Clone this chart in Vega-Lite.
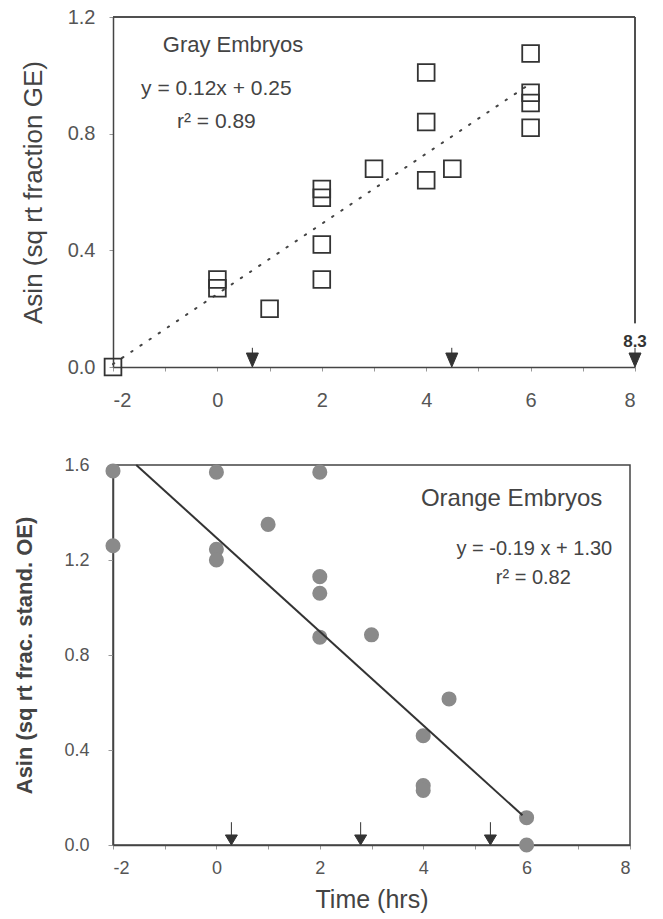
{
  "$schema": "https://vega.github.io/schema/vega-lite/v6.json",
  "background": "white",
  "padding": {"left": 13, "top": 7, "right": 5, "bottom": 5},
  "spacing": 45,
  "config": {
    "font": "Liberation Sans",
    "view": {"stroke": null},
    "axis": {"grid": false, "labelColor": "#555", "titleColor": "#444", "domainColor": "#444", "domainWidth": 1.5, "tickColor": "#999", "labelFont": "Liberation Sans", "titleFont": "Liberation Sans"}
  },
  "datasets": {
    "gray": [
      {"time": -2, "asin": 0.0},
      {"time": 0, "asin": 0.30}, {"time": 0, "asin": 0.27},
      {"time": 1, "asin": 0.20},
      {"time": 2, "asin": 0.61}, {"time": 2, "asin": 0.58}, {"time": 2, "asin": 0.42}, {"time": 2, "asin": 0.30},
      {"time": 3, "asin": 0.68},
      {"time": 4, "asin": 1.01}, {"time": 4, "asin": 0.84}, {"time": 4, "asin": 0.64},
      {"time": 4.5, "asin": 0.68},
      {"time": 6, "asin": 1.075}, {"time": 6, "asin": 0.94}, {"time": 6, "asin": 0.905}, {"time": 6, "asin": 0.82}
    ],
    "orange": [
      {"time": -2, "asin": 1.575}, {"time": -2, "asin": 1.26},
      {"time": 0, "asin": 1.57}, {"time": 0, "asin": 1.245}, {"time": 0, "asin": 1.20},
      {"time": 1, "asin": 1.35},
      {"time": 2, "asin": 1.57}, {"time": 2, "asin": 1.13}, {"time": 2, "asin": 1.06}, {"time": 2, "asin": 0.875},
      {"time": 3, "asin": 0.885},
      {"time": 4, "asin": 0.46}, {"time": 4, "asin": 0.25}, {"time": 4, "asin": 0.23},
      {"time": 4.5, "asin": 0.615},
      {"time": 6, "asin": 0.115}, {"time": 6, "asin": 0.0}
    ],
    "grayFit": [{"time": -2, "asin": 0.01}, {"time": 5.9, "asin": 0.96}],
    "orangeFit": [{"time": -1.55, "asin": 1.6}, {"time": 5.92, "asin": 0.125}],
    "grayArrows": [{"time": 0.67, "asin": 0, "label": ""}, {"time": 4.49, "asin": 0, "label": ""}, {"time": 8, "asin": 0, "label": "8.3"}],
    "orangeArrows": [{"time": 0.29, "asin": 0}, {"time": 2.79, "asin": 0}, {"time": 5.3, "asin": 0}],
    "grayTitle": [{"time": 0.3, "asin": 1.104, "text": "Gray Embryos"}],
    "grayEq": [{"time": -0.02, "asin": 0.952, "text": "y = 0.12x + 0.25"}, {"time": -0.02, "asin": 0.841, "text": "r² = 0.89"}],
    "orangeTitle": [{"time": 5.71, "asin": 1.456, "text": "Orange Embryos"}],
    "orangeEq": [{"time": 6.15, "asin": 1.248, "text": "y = -0.19 x + 1.30"}, {"time": 6.13, "asin": 1.124, "text": "r² = 0.82"}]
  },
  "vconcat": [
    {
      "width": 522,
      "height": 350,
      "encoding": {
        "x": {"field": "time", "type": "quantitative", "scale": {"domain": [-2, 8], "nice": false, "zero": false},
          "axis": {"title": null, "values": [-2, -1, 0, 1, 2, 3, 4, 5, 6, 7, 8], "labelExpr": "datum.value % 2 === 0 ? '' + datum.value : ''", "tickSize": 4, "labelPadding": 19, "labelFontSize": 20}},
        "y": {"field": "asin", "type": "quantitative", "scale": {"domain": [0, 1.2], "nice": false},
          "axis": {"title": "Asin (sq rt fraction GE)", "values": [0, 0.4, 0.8, 1.2], "format": ".1f", "tickSize": 4, "labelPadding": 14, "labelFontSize": 20, "titleFontSize": 26, "titleFontWeight": "normal", "titlePadding": 21}}
      },
      "layer": [
        {"data": {"name": "grayFit"}, "mark": {"type": "line", "color": "#444", "strokeWidth": 2, "strokeDash": [1.5, 9.5], "strokeCap": "round"}},
        {"data": {"name": "grayFit"}, "mark": {"type": "rule", "color": "#444", "strokeWidth": 1.5},
          "encoding": {"x": {"datum": -2}, "x2": {"datum": 8}, "y": {"datum": 1.2}}},
        {"data": {"name": "grayFit"}, "mark": {"type": "rule", "color": "#444", "strokeWidth": 1.5},
          "encoding": {"x": {"datum": 8}, "y": {"datum": 1.2}, "y2": {"datum": 0.15}}},
        {"data": {"name": "gray"}, "mark": {"type": "point", "shape": "square", "filled": false, "size": 280, "stroke": "#333", "strokeWidth": 1.8, "opacity": 1}},
        {"data": {"name": "grayArrows"}, "mark": {"type": "point", "shape": "M-1,-2.33L1,-2.33L0,0ZM0,-2.33L0,-3.2", "size": 144, "filled": true, "fill": "#333", "stroke": "#333", "strokeWidth": 1, "opacity": 1}},
        {"data": {"name": "grayArrows"}, "mark": {"type": "text", "dy": -25, "fontSize": 17, "fontWeight": "bold", "color": "#333", "font": "Liberation Sans"},
          "encoding": {"text": {"field": "label"}}},
        {"data": {"name": "grayTitle"}, "mark": {"type": "text", "fontSize": 22, "color": "#444", "font": "Liberation Sans"}, "encoding": {"text": {"field": "text"}}},
        {"data": {"name": "grayEq"}, "mark": {"type": "text", "fontSize": 21, "color": "#444", "font": "Liberation Sans"}, "encoding": {"text": {"field": "text"}}}
      ]
    },
    {
      "width": 517,
      "height": 380,
      "view": {"stroke": "#444", "strokeWidth": 1.5},
      "encoding": {
        "x": {"field": "time", "type": "quantitative", "scale": {"domain": [-2, 8], "nice": false, "zero": false},
          "axis": {"title": "Time (hrs)", "values": [-2, -1, 0, 1, 2, 3, 4, 5, 6, 7, 8], "labelExpr": "datum.value % 2 === 0 ? '' + datum.value : ''", "tickSize": 4, "labelPadding": 10, "labelFontSize": 18, "titleFontSize": 25, "titleFontWeight": "normal", "titlePadding": 10}},
        "y": {"field": "asin", "type": "quantitative", "scale": {"domain": [0, 1.6], "nice": false},
          "axis": {"title": "Asin (sq rt frac. stand. OE)", "values": [0, 0.4, 0.8, 1.2, 1.6], "format": ".1f", "tickSize": 5, "labelPadding": 19, "labelFontSize": 18, "titleFontSize": 22, "titleFontWeight": "bold", "titlePadding": 27}}
      },
      "layer": [
        {"data": {"name": "orange"}, "mark": {"type": "point", "shape": "circle", "filled": true, "size": 227, "color": "#8a8a8a", "opacity": 1}},
        {"data": {"name": "orangeFit"}, "mark": {"type": "line", "color": "#333", "strokeWidth": 2}},
        {"data": {"name": "orangeArrows"}, "mark": {"type": "point", "shape": "M-1,-1.67L1,-1.67L0,0ZM0,-1.67L0,-3.8", "size": 144, "filled": true, "fill": "#333", "stroke": "#333", "strokeWidth": 1, "opacity": 1}},
        {"data": {"name": "orangeTitle"}, "mark": {"type": "text", "fontSize": 24, "color": "#444", "font": "Liberation Sans"}, "encoding": {"text": {"field": "text"}}},
        {"data": {"name": "orangeEq"}, "mark": {"type": "text", "fontSize": 20, "color": "#444", "font": "Liberation Sans"}, "encoding": {"text": {"field": "text"}}}
      ]
    }
  ]
}
